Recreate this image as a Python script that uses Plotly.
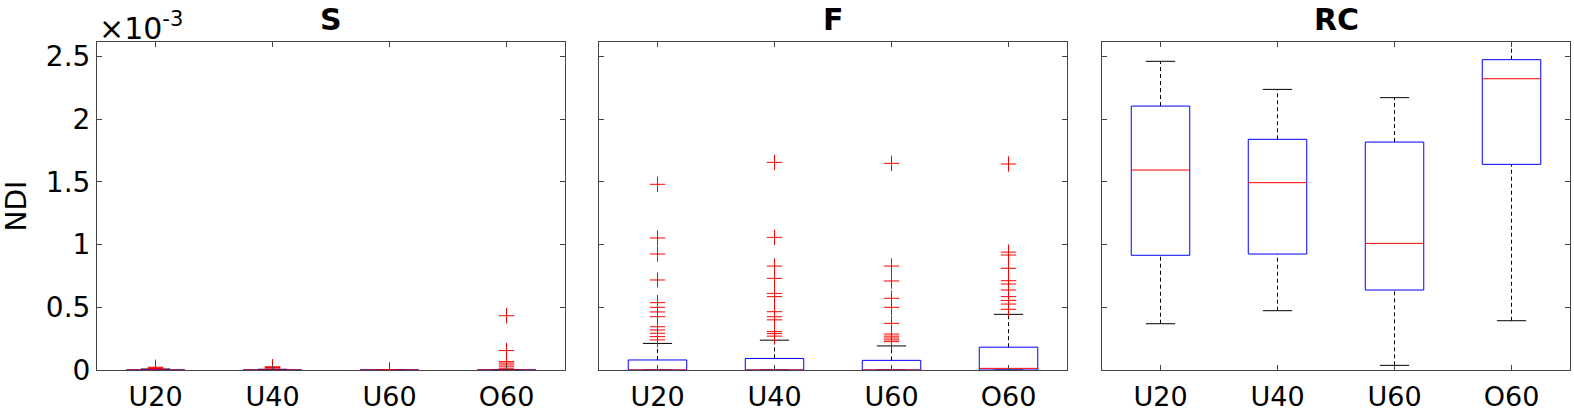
import plotly.graph_objects as go

categories = ["U20", "U40", "U60", "O60"]
panel_titles = ["S", "F", "RC"]

# All values in units of 1e-3 (NDI)
S_q1 = [0.0, 0.0, 0.0, 0.0]
S_med = [0.0, 0.0, 0.0, 0.0]
S_q3 = [0.004, 0.003, 0.0, 0.001]
S_lo = [0.0, 0.0, 0.0, 0.0]
S_hi = [0.008, 0.006, 0.0, 0.002]
S_out = [[0.022, 0.016, 0.012],
         [0.026, 0.020, 0.015],
         [0.002],
         [0.433, 0.155, 0.067, 0.055, 0.040, 0.025, 0.010]]

F_q1 = [0.0, 0.0, 0.0, 0.0]
F_med = [0.0, 0.0, 0.0, 0.013]
F_q3 = [0.080, 0.092, 0.077, 0.182]
F_lo = [0.0, 0.0, 0.0, 0.0]
F_hi = [0.212, 0.238, 0.192, 0.444]
F_out = [[1.481, 1.053, 0.925, 0.718, 0.537, 0.500, 0.463, 0.425, 0.345, 0.319, 0.293, 0.266, 0.240],
         [1.656, 1.058, 0.829, 0.731, 0.611, 0.585, 0.465, 0.425, 0.400, 0.306, 0.290, 0.270],
         [1.648, 0.829, 0.710, 0.572, 0.500, 0.372, 0.287, 0.270, 0.255, 0.240, 0.226],
         [1.643, 0.940, 0.917, 0.811, 0.712, 0.686, 0.638, 0.585, 0.555, 0.526, 0.484]]

RC_q1 = [0.915, 0.925, 0.638, 1.640]
RC_med = [1.595, 1.494, 1.010, 2.323]
RC_q3 = [2.105, 1.840, 1.818, 2.475]
RC_lo = [0.369, 0.473, 0.037, 0.393]
RC_hi = [2.462, 2.238, 2.172, 2.750]
RC_out = [[], [], [], []]

ytick_vals = [0, 0.5, 1, 1.5, 2, 2.5]
ytick_text = ["0", "0.5", "1", "1.5", "2", "2.5"]

panels = [
    (S_q1, S_med, S_q3, S_lo, S_hi, S_out),
    (F_q1, F_med, F_q3, F_lo, F_hi, F_out),
    (RC_q1, RC_med, RC_q3, RC_lo, RC_hi, RC_out),
]

W, H = 1574, 413
ml, mr, mt, mb = 97, 4, 42, 43
pw = W - ml - mr
panel_px = [(0, 468), (502, 970), (1005, 1473)]
domains = [[a / pw, b / pw] for a, b in panel_px]

FONT = "DejaVu Sans"
AX = "#444444"
TICKSIZE = 28
XTICKSIZE = 27
fig = go.Figure()

bw = 0.25   # half box width
cw = 0.125  # half cap width

for p, (q1, med, q3, lo, hi, out) in enumerate(panels):
    xa = "x" if p == 0 else f"x{p+1}"
    ya = "y" if p == 0 else f"y{p+1}"
    bx, by, mx, my, wx, wy, cx, cy, ox, oy = [], [], [], [], [], [], [], [], [], []
    for j in range(len(categories)):
        x = j + 1
        bx += [x - bw, x + bw, x + bw, x - bw, x - bw, None]
        by += [q1[j], q1[j], q3[j], q3[j], q1[j], None]
        mx += [x - bw, x + bw, None]
        my += [med[j], med[j], None]
        wx += [x, x, None, x, x, None]
        wy += [q3[j], hi[j], None, lo[j], q1[j], None]
        cx += [x - cw, x + cw, None, x - cw, x + cw, None]
        cy += [hi[j], hi[j], None, lo[j], lo[j], None]
        for v in out[j]:
            ox.append(x)
            oy.append(v)
    common = dict(xaxis=xa, yaxis=ya, showlegend=False, hoverinfo="skip")
    fig.add_trace(go.Scatter(x=wx, y=wy, mode="lines",
                             line=dict(color="black", width=1, dash="4px,3px"), **common))
    fig.add_trace(go.Scatter(x=cx, y=cy, mode="lines",
                             line=dict(color="black", width=1), **common))
    fig.add_trace(go.Scatter(x=bx, y=by, mode="lines",
                             line=dict(color="#0000ff", width=1), **common))
    fig.add_trace(go.Scatter(x=mx, y=my, mode="lines",
                             line=dict(color="#ff0000", width=1), **common))
    fig.add_trace(go.Scatter(x=ox, y=oy, mode="markers",
                             marker=dict(symbol="cross-thin-open", size=11, color="#ff0000",
                                         line=dict(color="#ff0000", width=1)),
                             cliponaxis=True, **common))

layout = dict(
    width=W, height=H,
    margin=dict(l=ml, r=mr, t=mt, b=mb, autoexpand=False),
    paper_bgcolor="white", plot_bgcolor="white",
    font=dict(family=FONT, size=TICKSIZE, color="black"),
)
for p in range(3):
    xk = "xaxis" if p == 0 else f"xaxis{p+1}"
    yk = "yaxis" if p == 0 else f"yaxis{p+1}"
    layout[xk] = dict(
        domain=domains[p], range=[0.5, 4.5],
        tickvals=[1, 2, 3, 4], ticktext=categories,
        ticks="inside", ticklen=5, tickcolor=AX,
        showline=True, linecolor=AX, linewidth=1, mirror="ticks",
        showgrid=False, zeroline=False, automargin=False,
        anchor="y" if p == 0 else f"y{p+1}",
        ticklabelstandoff=3,
        tickfont=dict(size=XTICKSIZE, family=FONT, color="black"),
    )
    layout[yk] = dict(
        domain=[0, 1], range=[0, 2.616],
        tickvals=ytick_vals, ticktext=ytick_text,
        ticks="inside", ticklen=5, tickcolor=AX,
        showline=True, linecolor=AX, linewidth=1, mirror="ticks",
        showgrid=False, zeroline=False, automargin=False,
        showticklabels=(p == 0),
        anchor="x" if p == 0 else f"x{p+1}",
        tickfont=dict(size=TICKSIZE, family=FONT, color="black"),
    )
layout["yaxis"]["title"] = dict(text="NDI", font=dict(size=TICKSIZE, family=FONT), standoff=14)
fig.update_layout(**layout)

for p, t in enumerate(panel_titles):
    a, b = panel_px[p]
    fig.add_annotation(text=f"<b>{t}</b>", xref="paper", yref="paper",
                       x=(a + b) / 2 / pw, y=1, yshift=3,
                       xanchor="center", yanchor="bottom", showarrow=False,
                       font=dict(size=30, family=FONT, color="black"))
fig.add_annotation(text="×10<sup>-3</sup>", xref="paper", yref="paper",
                   x=0, y=1, yshift=-6, xshift=0,
                   xanchor="left", yanchor="bottom", showarrow=False,
                   font=dict(size=30, family=FONT, color="black"))

fig.write_html("out.html")
